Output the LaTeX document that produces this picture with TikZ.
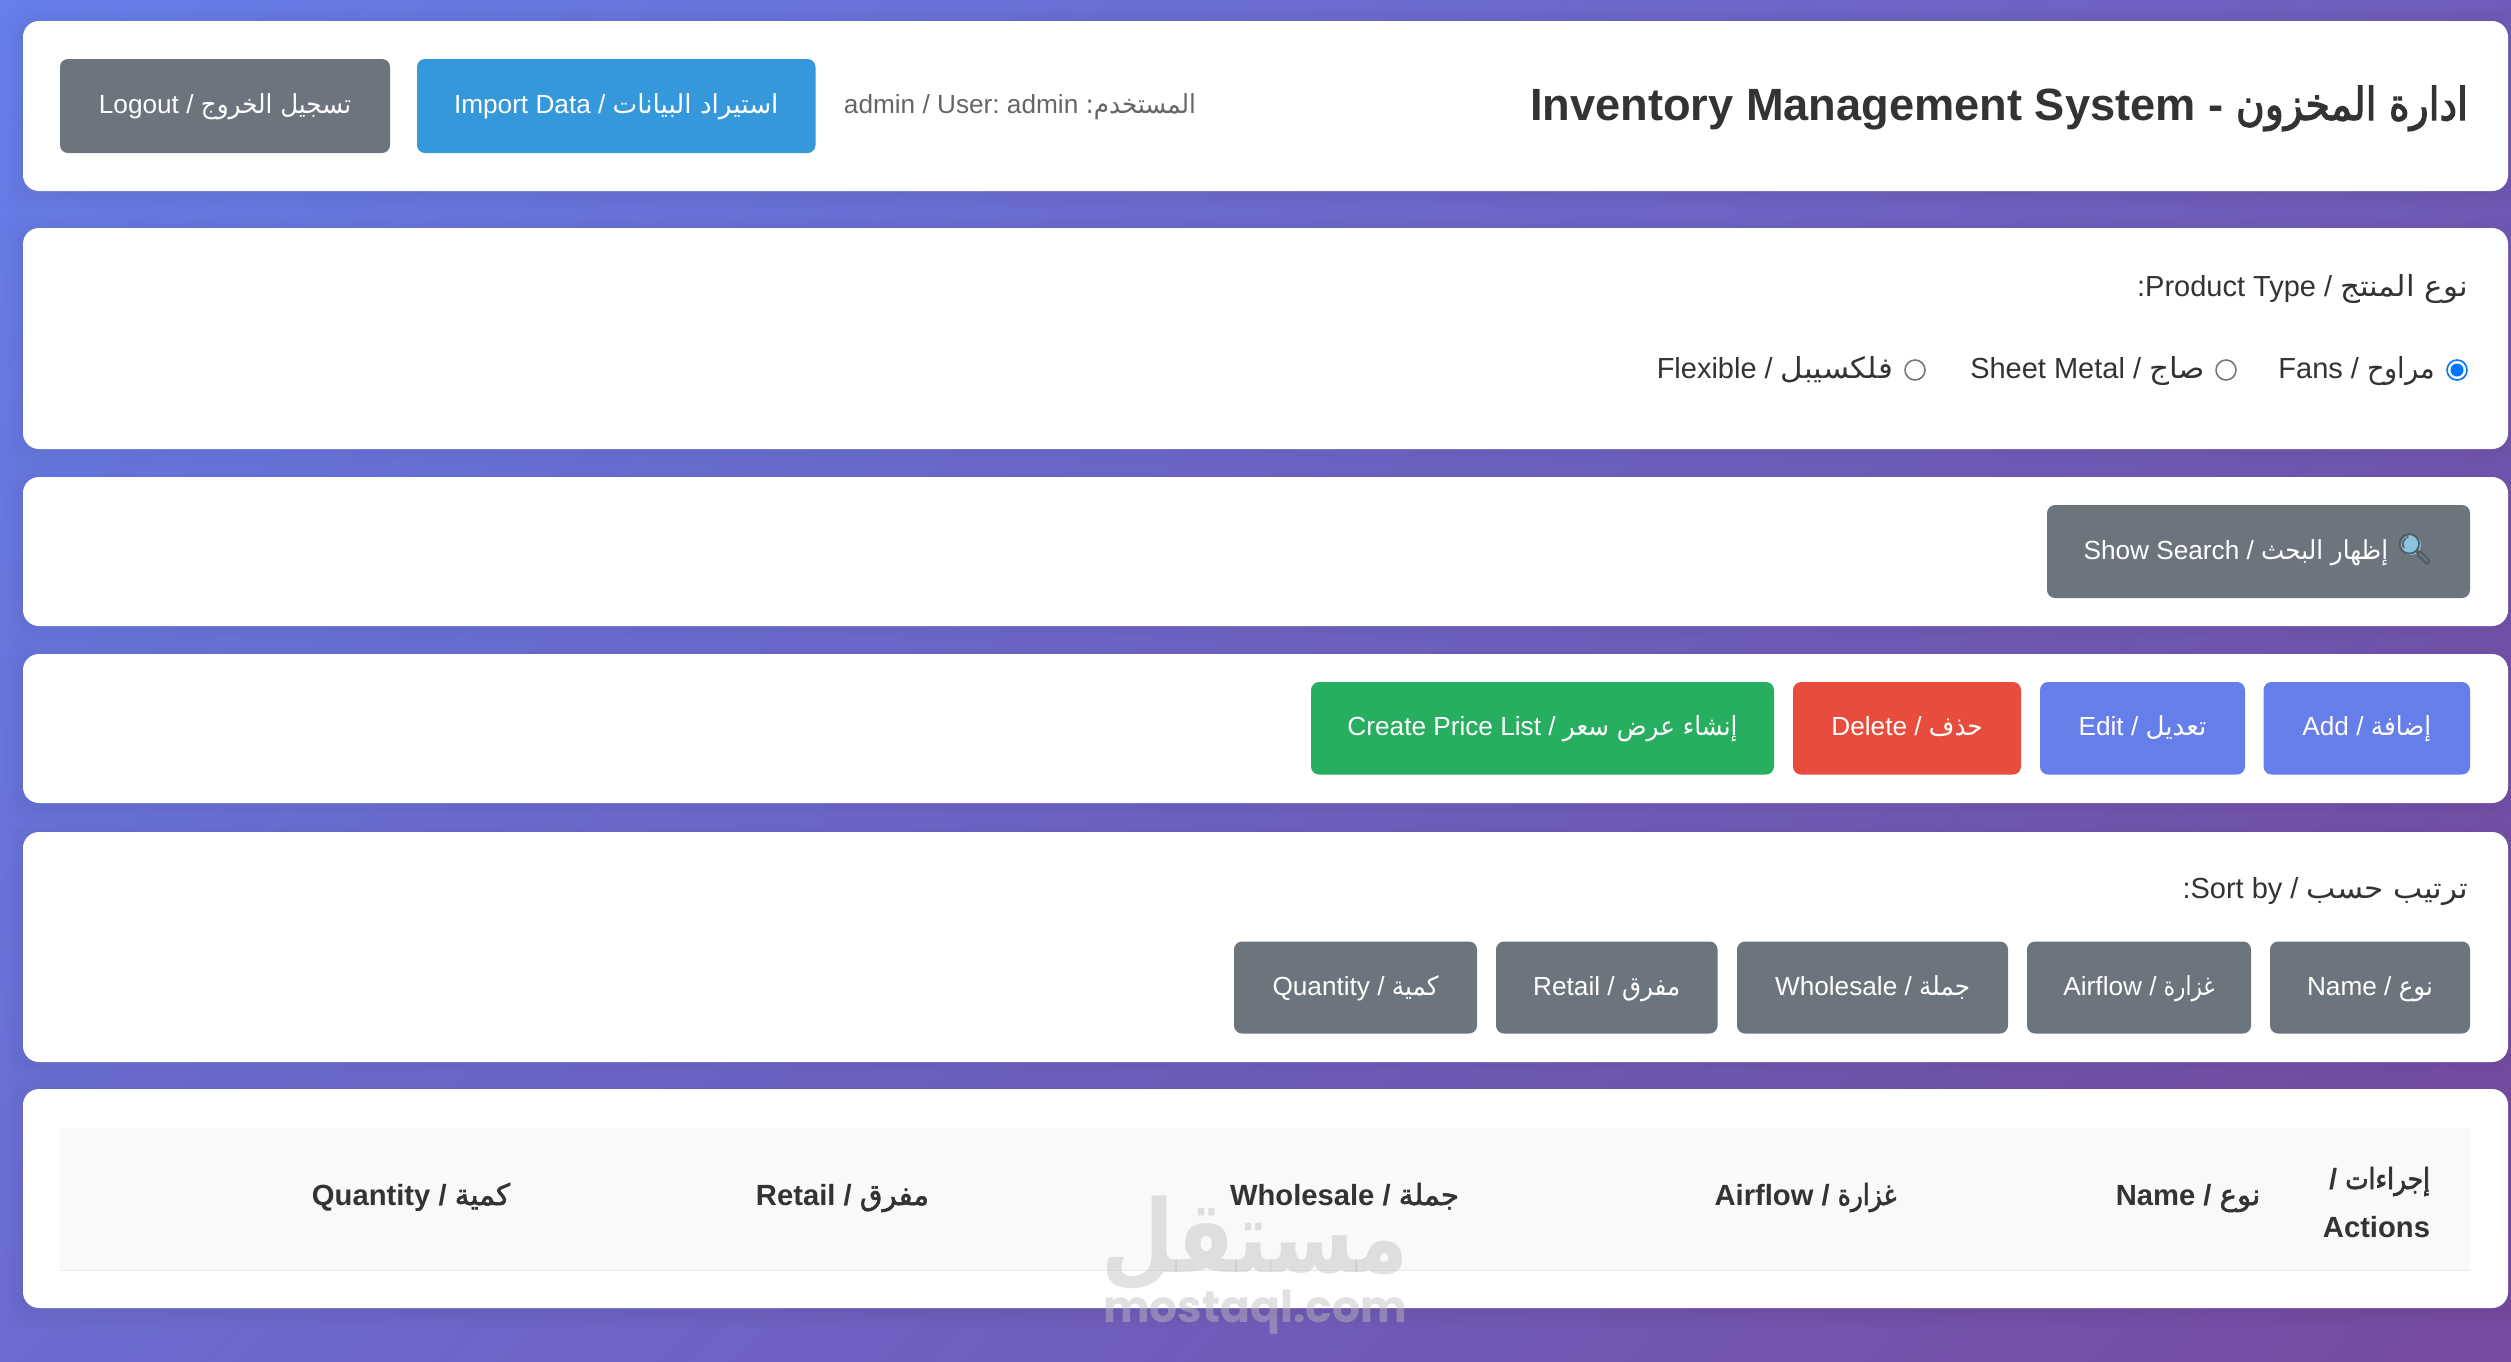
\documentclass[tikz,border=0pt]{standalone}
\usepackage{fontspec}
\setmainfont{Liberation Sans}
\newfontfamily\arabicfont[Script=Arabic,FakeStretch=0.94]{DejaVu Sans}
\newfontfamily\arabicmid[Script=Arabic,FakeStretch=1.0]{DejaVu Sans}
\newfontfamily\arabicnarrow[Script=Arabic,FakeStretch=0.82]{DejaVu Sans}
\newfontfamily\arabicwide[Script=Arabic,FakeStretch=1.07]{DejaVu Sans}
\newfontfamily\arabicheavy[Script=Arabic,FakeBold=2]{DejaVu Sans}
\newfontfamily\arabicheavynarrow[Script=Arabic,FakeBold=2,FakeStretch=0.85]{DejaVu Sans}
\newfontfamily\arabictitle[Script=Arabic,FakeBold=2.5,FakeStretch=0.87]{DejaVu Sans}
\newfontfamily\arabicmark[Script=Arabic]{DejaVu Sans Bold}
\newfontfamily\emojifont[FakeBold=2]{Noto Emoji}
\newfontfamily\markfont{Poppins}
\TeXXeTstate=1
\frenchspacing
\newcommand\arb[1]{{\arabicfont\beginR #1\endR}}
\newcommand\arm[1]{{\arabicmid\beginR #1\endR}}
\newcommand\arn[1]{{\arabicnarrow\beginR #1\endR}}
\newcommand\arl[1]{{\arabicwide\beginR #1\endR}}
\newcommand\arh[1]{{\mdseries\arabicheavy\beginR #1\endR}}
\newcommand\arhn[1]{{\mdseries\arabicheavynarrow\beginR #1\endR}}
\newcommand\art[1]{{\mdseries\arabictitle\beginR #1\endR}}
\definecolor{gradA}{HTML}{667EEA}
\definecolor{gradB}{HTML}{764BA2}
\definecolor{btnGray}{HTML}{6C757D}
\definecolor{btnBlue}{HTML}{3498DB}
\definecolor{btnIndigo}{HTML}{667EEA}
\definecolor{btnRed}{HTML}{E74C3C}
\definecolor{btnGreen}{HTML}{27AE60}
\definecolor{ink}{HTML}{333333}
\definecolor{soft}{HTML}{666666}
\definecolor{headFill}{HTML}{F8F9FA}
\definecolor{headLine}{HTML}{E9ECEF}
\definecolor{radioBlue}{HTML}{0075FF}
\definecolor{radioGray}{HTML}{767676}
\definecolor{markGray}{HTML}{BEBEBE}
\definecolor{lensFill}{HTML}{8EC3DF}
\definecolor{lensRim}{HTML}{4F5B66}
\tikzset{
  x=0.5pt,y=-0.5pt,
  card/.style={fill=white,rounded corners=8pt,inner sep=0pt,outer sep=0pt},
  btn/.style={rounded corners=4pt,inner sep=0pt,outer sep=0pt,text=white,
    text height=7.5pt,text depth=0pt,font=\fontsize{13.1}{15}\selectfont},
  txt/.style={inner sep=0pt,outer sep=0pt,text=ink,font=\fontsize{14.5}{17}\selectfont,anchor=base east},
  thead/.style={inner sep=0pt,outer sep=0pt,text=ink,font=\bfseries\fontsize{14.6}{17}\selectfont,anchor=base},
  radioOff/.style={circle,draw=radioGray,line width=0.8pt,fill=white,minimum size=10pt,inner sep=0pt},
  radioOn/.style={circle,draw=radioBlue,line width=0.8pt,fill=white,minimum size=10pt,inner sep=0pt},
  radioDot/.style={circle,fill=radioBlue,minimum size=6.5pt,inner sep=0pt},
  shadowlayer/.style={fill=black,fill opacity=0.008},
  wmark/.style={inner sep=0pt,outer sep=0pt,text=markGray,text opacity=0.45},
}
\newcommand\cardbox[3]{% name y1 y2
  \foreach \s in {1,...,6}{
    \fill[shadowlayer,rounded corners=10pt] (23-3*\s,#2-3*\s+3) rectangle (2508+3*\s,#3+3*\s+3);
  }
  \node[card,minimum width=1242.5pt,minimum height={(#3-#2)*0.5pt}] (#1) at (1265.5,{(#2+#3)/2}) {};
}
\newcommand\button[7]{% name x1 x2 y1 y2 colour text
  \node[btn,fill=#6,minimum width={(#3-#2)*0.5pt},minimum height={(#5-#4)*0.5pt}] (#1) at ({(#2+#3)/2},{(#4+#5)/2}) {#7};
}
\begin{document}
\begin{tikzpicture}
\path[use as bounding box] (0,0) rectangle (2511,1361);
\begin{scope}
  \clip (0,0) rectangle (2511,1361);
  \shade[top color=gradA,bottom color=gradB,shading angle=45] (-113.5,-688.5) rectangle (2624.5,2049.5);
\end{scope}

\cardbox{headerCard}{21}{191}
\cardbox{typeCard}{228}{449}
\cardbox{searchCard}{477}{626}
\cardbox{actionCard}{654}{803}
\cardbox{sortCard}{832}{1062}
\cardbox{tableCard}{1089}{1308}

\button{logout}{60}{390}{59}{153}{btnGray}{Logout / \arb{تسجيل الخروج}}
\button{import}{417}{815.5}{59}{153}{btnBlue}{Import Data / \arm{استيراد البيانات}}
\node[txt,text=soft,font=\fontsize{13.1}{15}\selectfont] (user) at (1196,113.5) {admin / User: admin \arb{المستخدم:}};
\node[txt,font=\bfseries\fontsize{22.6}{27}\selectfont] (title) at (2468,120) {Inventory Management System - \art{ادارة المخزون}};

\node[txt] (typeLabel) at (2468,296) {:Product Type / \arl{نوع المنتج}};
\node[radioOn] (radioFans) at (2457,370) {};
\node[radioDot] (radioFansDot) at (2457,370) {};
\node[txt] (fans) at (2435,378) {Fans / \arb{مراوح}};
\node[radioOff] (radioSheet) at (2226,370) {};
\node[txt] (sheet) at (2205,378) {Sheet Metal / \arl{صاج}};
\node[radioOff] (radioFlex) at (1915,370) {};
\node[txt] (flex) at (1893,378) {Flexible / \arl{فلكسيبل}};

\node[btn,fill=btnGray,minimum width=211.5pt,minimum height=46.5pt,
  path picture={\fill[lensFill] ([shift={(152.5,-6.5)}]path picture bounding box.center) circle[radius=10];}]
  (showSearch) at (2258.5,551.5) {Show Search / \arb{إظهار البحث} {\emojifont\fontsize{15}{15}\selectfont\textcolor{lensRim}{🔍}}};

\button{add}{2263.5}{2470}{682}{774.5}{btnIndigo}{Add / \arb{إضافة}}
\button{edit}{2040}{2245}{682}{774.5}{btnIndigo}{Edit / \arm{تعديل}}
\button{delete}{1793}{2021}{682}{774.5}{btnRed}{Delete / \arb{حذف}}
\button{priceList}{1311}{1774}{682}{774.5}{btnGreen}{Create Price List / \arb{إنشاء عرض سعر}}

\node[txt] (sortLabel) at (2468,898) {:Sort by / \arl{ترتيب حسب}};
\button{sortName}{2270}{2470}{941.5}{1033.5}{btnGray}{Name / \arb{نوع}}
\button{sortAirflow}{2027}{2251}{941.5}{1033.5}{btnGray}{Airflow / \arn{غزارة}}
\button{sortWholesale}{1737}{2008}{941.5}{1033.5}{btnGray}{Wholesale / \arb{جملة}}
\button{sortRetail}{1496}{1717.5}{941.5}{1033.5}{btnGray}{Retail / \arb{مفرق}}
\button{sortQuantity}{1234}{1477}{941.5}{1033.5}{btnGray}{Quantity / \arb{كمية}}

\node[fill=headFill,inner sep=0pt,outer sep=0pt,minimum width=1205pt,minimum height=71.5pt] (tableHead) at (1265,1199) {};
\draw[headLine,line width=0.8pt] (tableHead.south west) -- (tableHead.south east);

\node[wmark,yscale=1.2,font=\arabicmark\fontsize{42}{42}\selectfont] (markAr) at (1255,1243) {\beginR مستقل\endR};
\node[wmark,anchor=base,font=\markfont\bfseries\fontsize{22}{22}\selectfont] (markEn) at (1255,1322) {mostaql.com};

\node[thead] (colQuantity) at (411,1205) {Quantity / \arh{كمية}};
\node[thead] (colRetail) at (842.5,1205) {Retail / \arh{مفرق}};
\node[thead] (colWholesale) at (1344.5,1205) {Wholesale / \arh{جملة}};
\node[thead] (colAirflow) at (1805.5,1205) {Airflow / \arhn{غزارة}};
\node[thead] (colName) at (2188,1205) {Name / \arh{نوع}};
\node[thead,anchor=base east,align=right,font=\bfseries\fontsize{14.6}{24}\selectfont] (colActions) at (2430,1237) {/ \arhn{إجراءات}\\Actions};
\end{tikzpicture}
\end{document}
